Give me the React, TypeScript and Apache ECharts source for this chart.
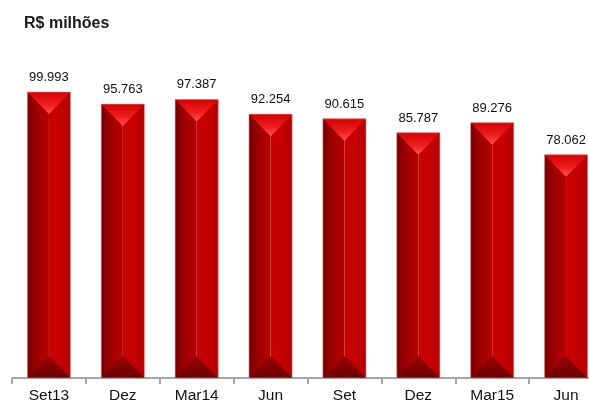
import React, { useEffect, useRef } from 'react';
import * as echarts from 'echarts';

const categories = ['Set13', 'Dez', 'Mar14', 'Jun', 'Set', 'Dez', 'Mar15', 'Jun'];
const values = [99993, 95763, 97387, 92254, 90615, 85787, 89276, 78062];
const titleText = 'R$ milhões';

const FONT = "'Liberation Sans', Arial, sans-serif";

function fmt(v: number): string {
  return String(Math.round(v)).replace(/\B(?=(\d{3})+(?!\d))/g, '.');
}

export default function App() {
  const ref = useRef<HTMLDivElement>(null);
  useEffect(() => {
    const chart = echarts.init(ref.current!, null, { renderer: 'svg' });
    chart.setOption({
      animation: false,
      title: {
        text: titleText,
        left: 24,
        top: 14,
        padding: 0,
        textStyle: { fontFamily: FONT, fontSize: 16, fontWeight: 'bold', color: '#1a1a1a' },
      },
      grid: { left: 12, right: 7, top: 92, bottom: 22, containLabel: false, outerBoundsMode: 'none' },
      xAxis: {
        type: 'category',
        data: categories,
        boundaryGap: true,
        axisLine: { lineStyle: { color: '#a6a6a6', width: 2 } },
        axisTick: { show: true, length: 6, lineStyle: { color: '#a6a6a6', width: 2 } },
        axisLabel: { fontFamily: FONT, fontSize: 15.5, color: '#111', margin: 8, interval: 0 },
      },
      yAxis: { type: 'value', min: 0, max: 100000, show: false, splitLine: { show: false } },
      series: [
        {
          type: 'custom',
          data: values.map((v, i) => [i, v]),
          encode: { x: 0, y: 1 },
          renderItem: (params: any, api: any) => {
            const idx = api.value(0);
            const v = api.value(1);
            const top = api.coord([idx, v]);
            const base = api.coord([idx, 0]);
            const bw = api.size([1, 0])[0] * 0.585;
            const cx = top[0];
            const x0 = cx - bw / 2;
            const x1 = cx + bw / 2;
            const y0 = top[1];
            const y1 = base[1];
            return {
              type: 'group',
              children: [
                {
                  type: 'rect',
                  shape: { x: x0, y: y0, width: cx - x0, height: y1 - y0 },
                  style: {
                    fill: {
                      type: 'linear', x: 0, y: 0, x2: 1, y2: 0,
                      colorStops: [
                        { offset: 0, color: '#780000' },
                        { offset: 0.5, color: '#a20000' },
                        { offset: 1, color: '#b80000' },
                      ],
                    },
                  },
                },
                {
                  type: 'rect',
                  shape: { x: cx, y: y0, width: x1 - cx, height: y1 - y0 },
                  style: {
                    fill: {
                      type: 'linear', x: 0, y: 0, x2: 1, y2: 0,
                      colorStops: [
                        { offset: 0, color: '#cc0000' },
                        { offset: 0.6, color: '#c20000' },
                        { offset: 1, color: '#b40000' },
                      ],
                    },
                  },
                },
                {
                  type: 'polygon',
                  shape: { points: [[x0, y0], [x1, y0], [cx, y0 + 22]] },
                  style: {
                    fill: {
                      type: 'linear', x: 0, y: 0, x2: 0, y2: 1,
                      colorStops: [
                        { offset: 0, color: '#d60000' },
                        { offset: 0.6, color: '#f02020' },
                        { offset: 1, color: '#ff5555' },
                      ],
                    },
                  },
                },
                {
                  type: 'polygon',
                  shape: { points: [[x0, y1], [x1, y1], [cx, y1 - 22]] },
                  style: {
                    fill: {
                      type: 'linear', x: 0, y: 0, x2: 0, y2: 1,
                      colorStops: [
                        { offset: 0, color: '#9a0000' },
                        { offset: 1, color: '#6c0000' },
                      ],
                    },
                  },
                },
                {
                  type: 'rect',
                  shape: { x: x0, y: y0, width: x1 - x0, height: y1 - y0 },
                  style: { fill: 'none', stroke: 'rgba(230,150,150,0.55)', lineWidth: 1 },
                },
                {
                  type: 'text',
                  style: {
                    text: fmt(v),
                    x: cx,
                    y: y0 - 9,
                    align: 'center',
                    verticalAlign: 'bottom',
                    fontFamily: FONT,
                    fontSize: 13,
                    fill: '#111',
                  },
                },
              ],
            };
          },
        },
      ],
    });
    return () => chart.dispose();
  }, []);
  return (
    <div style={{ position: 'fixed', left: 0, top: 0, width: 589, height: 400, overflow: 'hidden' }}>
      <div ref={ref} style={{ position: 'absolute', left: 0, top: 0, width: 610, height: 400 }} />
    </div>
  );
}
